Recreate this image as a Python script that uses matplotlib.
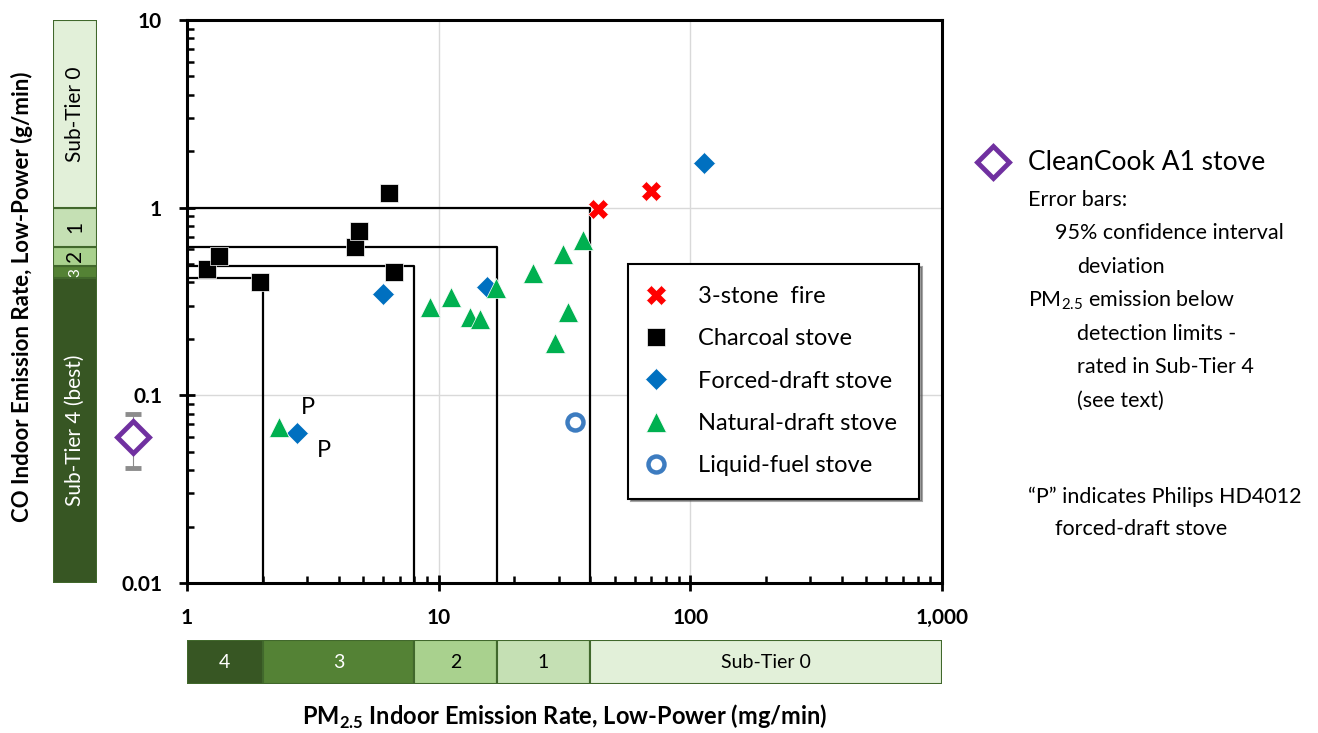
import numpy as np
import matplotlib
matplotlib.use("Agg")
import matplotlib.pyplot as plt
from matplotlib.transforms import blended_transform_factory

plt.rcParams['font.family'] = ['Lato', 'DejaVu Sans']
plt.rcParams['mathtext.fontset'] = 'custom'
plt.rcParams['mathtext.rm'] = 'Lato'
plt.rcParams['mathtext.bf'] = 'Lato:bold'

# stove data (PM2.5 mg/min, CO g/min)
fire_pm = [43, 70]
fire_co = [0.98, 1.23]
charcoal_pm = [1.2, 1.34, 1.95, 4.65, 4.82, 6.35, 6.64]
charcoal_co = [0.47, 0.55, 0.40, 0.62, 0.75, 1.19, 0.455]
forced_pm = [2.74, 6.0, 15.6, 113]
forced_co = [0.063, 0.346, 0.377, 1.73]
natural_pm = [2.32, 9.2, 11.2, 13.3, 14.6, 16.9, 23.7, 29.0, 31.2, 32.6, 37.4]
natural_co = [0.068, 0.295, 0.333, 0.26, 0.255, 0.373, 0.449, 0.19, 0.567, 0.278, 0.673]
liquid_pm = [34.8]
liquid_co = [0.072]

# CleanCook: PM below detection limit, shown left of the axis
cleancook_co = 0.06
cleancook_lo = 0.041
cleancook_hi = 0.08

# sub-tier thresholds
pm_tiers = [2, 8, 17, 40]        # tiers 4,3,2,1 upper limits
co_tiers = [0.42, 0.49, 0.62, 1.0]
pm_edges = [1, 2, 8, 17, 40, 1000]
co_edges = [0.01, 0.42, 0.49, 0.62, 1.0, 10]
tier_names_x = ['4', '3', '2', '1', 'Sub-Tier 0']
tier_names_y = ['Sub-Tier 4 (best)', '3', '2', '1', 'Sub-Tier 0']
tier_colors = ['#375623', '#548235', '#A9D18E', '#C5E0B4', '#E2F0D9']
tier_text = ['white', 'white', 'black', 'black', 'black']

W, H = 1318, 733
fig = plt.figure(figsize=(W / 100, H / 100), dpi=100)

def box(x0, y0, x1, y1):
    return [x0 / W, 1 - y1 / H, (x1 - x0) / W, (y1 - y0) / H]

ax = fig.add_axes(box(187, 20, 942, 583))
ax.set_xscale('log')
ax.set_yscale('log')
ax.set_xlim(1, 1000)
ax.set_ylim(0.01, 10)

# grid only at 10/100 and 1/0.1
for v in [10, 100]:
    ax.axvline(v, color='#D9D9D9', lw=1, zorder=0)
for v in [0.1, 1]:
    ax.axhline(v, color='#D9D9D9', lw=1, zorder=0)

# tier boundary lines
for p, c in zip(pm_tiers, co_tiers):
    ax.plot([1, p, p], [c, c, 0.01], color='black', lw=1.6, zorder=1)

ax.plot(fire_pm, fire_co, 'X', color='#FF0000', ms=15, mec='white', mew=0.5,
        ls='none', label='3-stone  fire', zorder=3)
ax.plot(charcoal_pm, charcoal_co, 's', color='black', ms=12.5, mec='white', mew=0.5,
        ls='none', label='Charcoal stove', zorder=3)
ax.plot(forced_pm, forced_co, 'D', color='#0070C0', ms=11, mec='white', mew=0.5,
        ls='none', label='Forced-draft stove', zorder=3)
ax.plot(natural_pm, natural_co, '^', color='#00B050', ms=14, mec='white', mew=0.5,
        ls='none', label='Natural-draft stove', zorder=3)
ax.plot(liquid_pm, liquid_co, 'o', mfc='white', mec='#3D7CC0', ms=11.5, mew=3.2,
        ls='none', label='Liquid-fuel stove', zorder=3)

# "P" = Philips stove
ax.annotate('P', (natural_pm[0], natural_co[0]), xytext=(16, 9),
            textcoords='offset points', fontsize=17)
ax.annotate('P', (forced_pm[0], forced_co[0]), xytext=(14, -17),
            textcoords='offset points', fontsize=17)

# CleanCook point outside the axis
tr = blended_transform_factory(ax.transAxes, ax.transData)
ax.errorbar([-0.0715], [cleancook_co],
            yerr=[[cleancook_co - cleancook_lo], [cleancook_hi - cleancook_co]],
            fmt='D', mfc='white', mec='#7030A0', ms=16, mew=3.5,
            ecolor='#8C8C8C', elinewidth=0.8, capsize=6, capthick=0.8, transform=tr,
            clip_on=False, zorder=5)

leg = ax.legend(loc='upper left', bbox_to_anchor=(0.584, 0.567), fontsize=17,
                frameon=True, fancybox=False, shadow=True, edgecolor='black',
                borderpad=0.95, labelspacing=0.9, handletextpad=1.5,
                borderaxespad=0, handlelength=0.5)
leg.get_frame().set_linewidth(1.5)

for s in ax.spines.values():
    s.set_linewidth(2.2)
ax.tick_params(which='major', direction='inout', length=12, width=2, labelsize=15,
               pad=12)
ax.tick_params(which='minor', direction='in', length=5, width=1.8)
ax.set_xticks([1, 10, 100, 1000])
ax.set_xticklabels(['1', '10', '100', '1,000'], fontweight='bold')
ax.set_yticks([0.01, 0.1, 1, 10])
ax.set_yticklabels(['0.01', '0.1', '1', '10'], fontweight='bold')
ax.xaxis.set_minor_formatter(plt.NullFormatter())
ax.yaxis.set_minor_formatter(plt.NullFormatter())

# left tier bar (CO)
axl = fig.add_axes(box(53, 20, 97, 583))
axl.set_yscale('log')
axl.set_ylim(0.01, 10)
axl.set_xlim(0, 1)
for i in range(5):
    axl.bar(0.5, co_edges[i + 1] - co_edges[i], bottom=co_edges[i], width=1,
            color=tier_colors[i], edgecolor='#41682C', lw=1.5)
    ymid = np.sqrt(co_edges[i] * co_edges[i + 1])
    fs = 11 if i == 1 else 15
    axl.text(0.5, ymid, tier_names_y[i], rotation=90, ha='center', va='center',
             color=tier_text[i], fontsize=fs, clip_on=True)
axl.axis('off')

# bottom tier bar (PM2.5)
axb = fig.add_axes(box(187, 640, 942, 684))
axb.set_xscale('log')
axb.set_xlim(1, 1000)
axb.set_ylim(0, 1)
for i in range(5):
    axb.barh(0.5, pm_edges[i + 1] - pm_edges[i], left=pm_edges[i], height=1,
             color=tier_colors[i], edgecolor='#41682C', lw=1.5)
    xmid = np.sqrt(pm_edges[i] * pm_edges[i + 1])
    axb.text(xmid, 0.5, tier_names_x[i], ha='center', va='center',
             color=tier_text[i], fontsize=14)
axb.axis('off')

fig.text(22 / W, 1 - 297 / H, 'CO Indoor Emission Rate, Low-Power (g/min)',
         rotation=90, ha='center', va='center', fontsize=16, fontweight='bold')
fig.text(565 / W, 1 - 717 / H,
         r'PM$_\mathbf{2.5}$ Indoor Emission Rate, Low-Power (mg/min)',
         ha='center', va='center', fontsize=17, fontweight='bold')

# side notes
fig.lines.append(plt.Line2D([993 / W], [1 - 162 / H], marker='D', mfc='white',
                            mec='#7030A0', ms=16, mew=3.5, transform=fig.transFigure))
fig.text(1028 / W, 1 - 162 / H, 'CleanCook A1 stove', fontsize=19, va='center')
notes = [
    (1028, 200, 'Error bars:'),
    (1055, 233, '95% confidence interval'),
    (1077, 267, 'deviation'),
    (1028, 300, r'PM$_{2.5}$ emission below'),
    (1077, 334, 'detection limits -'),
    (1077, 367, 'rated in Sub-Tier 4'),
    (1077, 401, '(see text)'),
    (1028, 497, '\u201cP\u201d indicates Philips HD4012'),
    (1055, 529, 'forced-draft stove'),
]
for x, y, t in notes:
    fig.text(x / W, 1 - y / H, t, fontsize=15.5, va='center')

fig.savefig('out.png', dpi=100)
